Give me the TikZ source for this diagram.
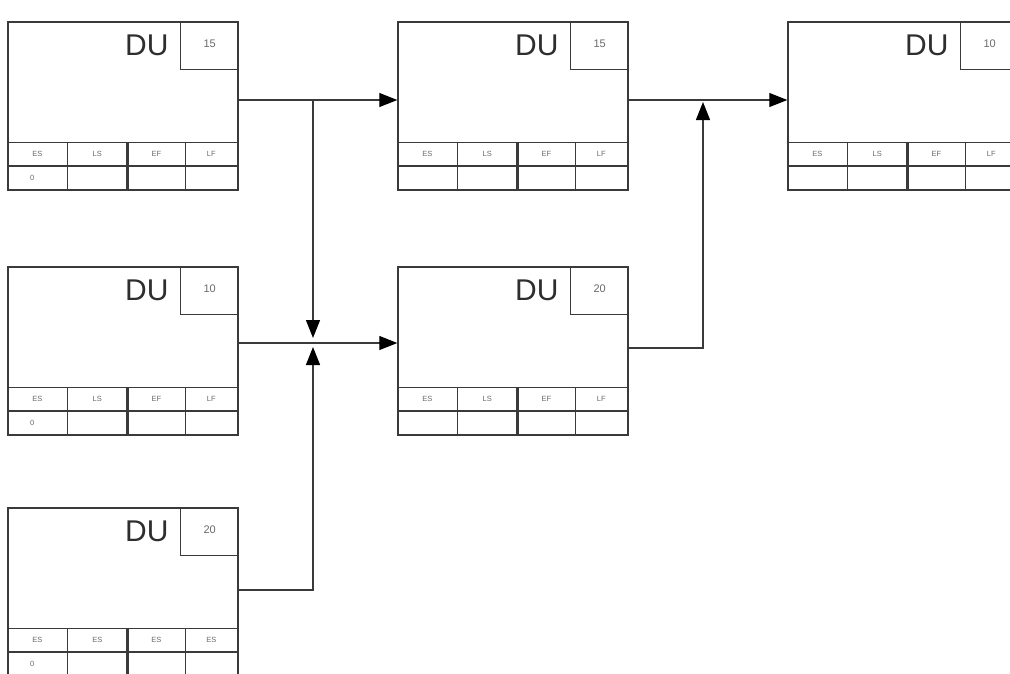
\documentclass[tikz,border=0pt]{standalone}
\usepackage{fontspec}
\setmainfont{Liberation Sans}
\usetikzlibrary{arrows.meta}
\definecolor{boxline}{HTML}{3A3A3A}
\definecolor{txtdark}{HTML}{2E2E2E}
\definecolor{txtgray}{HTML}{6A6A6A}
\tikzset{
  actnode/.style={draw=boxline, line width=1.4pt, rectangle, minimum width=230pt, minimum height=168pt, inner sep=0pt},
  inner/.style={draw=boxline, line width=1.3pt},
  thickdiv/.style={draw=boxline, line width=2.8pt},
  dutext/.style={font=\fontsize{30}{30}\selectfont, text=txtdark, inner sep=0pt},
  numtext/.style={font=\fontsize{11}{11}\selectfont, text=txtgray, inner sep=0pt},
  labtext/.style={font=\fontsize{7.5}{7.5}\selectfont, text=txtgray, inner sep=0pt},
  conn/.style={draw=boxline, line width=1.2pt},
  arr/.style={conn, -{Triangle[length=18pt,width=14pt,fill=black,color=black]}},
}
\newcommand\actbox[9]{%
  \node[actnode] (#1) at (#2,#3) {};
  \draw[inner] ([xshift=-58pt]#1.north east) |- ([yshift=-48pt]#1.north east);
  \draw[inner] ([yshift=48pt]#1.south west) -- ([yshift=48pt]#1.south east);
  \draw[inner, line width=2pt] ([yshift=25pt]#1.south west) -- ([yshift=25pt]#1.south east);
  \draw[inner] ([xshift=60pt,yshift=48pt]#1.south west) -- ([xshift=60pt]#1.south west);
  \draw[thickdiv] ([xshift=120pt,yshift=48pt]#1.south west) -- ([xshift=120pt]#1.south west);
  \draw[inner] ([xshift=178pt,yshift=48pt]#1.south west) -- ([xshift=178pt]#1.south west);
  \node[dutext, anchor=base east] (#1du) at ([xshift=-70pt,yshift=-34pt]#1.north east) {DU};
  \node[numtext] (#1n) at ([xshift=-29pt,yshift=-22pt]#1.north east) {#4};
  \node[labtext] (#1a) at ([xshift=30pt,yshift=36.5pt]#1.south west) {#5};
  \node[labtext] (#1b) at ([xshift=90pt,yshift=36.5pt]#1.south west) {#6};
  \node[labtext] (#1c) at ([xshift=149pt,yshift=36.5pt]#1.south west) {#7};
  \node[labtext] (#1d) at ([xshift=204pt,yshift=36.5pt]#1.south west) {#8};
  \node[labtext] (#1z) at ([xshift=25pt,yshift=12.5pt]#1.south west) {#9};
}
\begin{document}
\begin{tikzpicture}[x=1pt,y=-1pt]
\useasboundingbox (0,0) rectangle (1010,673);
\clip (0,0) rectangle (1010,673);
\fill[white] (0,0) rectangle (1010,673);
\actbox{b1}{123}{106}{15}{ES}{LS}{EF}{LF}{0}
\actbox{b2}{513}{106}{15}{ES}{LS}{EF}{LF}{}
\actbox{b3}{903}{106}{10}{ES}{LS}{EF}{LF}{}
\actbox{b4}{123}{351}{10}{ES}{LS}{EF}{LF}{0}
\actbox{b5}{513}{351}{20}{ES}{LS}{EF}{LF}{}
\actbox{b6}{123}{592}{20}{ES}{ES}{ES}{ES}{0}
\coordinate (j1) at (313,342);
\coordinate (j2) at (703,100);
% connectors
\draw[arr] ([yshift=6pt]b1.east) -- ([yshift=6pt]b2.west);
\draw[arr, shorten >=4pt] ([yshift=6pt]b1.east -| j1) -- (j1);
\draw[arr] ([yshift=8pt]b4.east) -- ([yshift=8pt]b5.west);
\draw[arr, shorten >=5pt] ([yshift=2pt]b6.east) -| (j1);
\draw[arr] ([yshift=6pt]b2.east) -- ([yshift=6pt]b3.west);
\draw[arr, shorten >=2pt] ([yshift=3pt]b5.east) -| (j2);
\end{tikzpicture}
\end{document}
